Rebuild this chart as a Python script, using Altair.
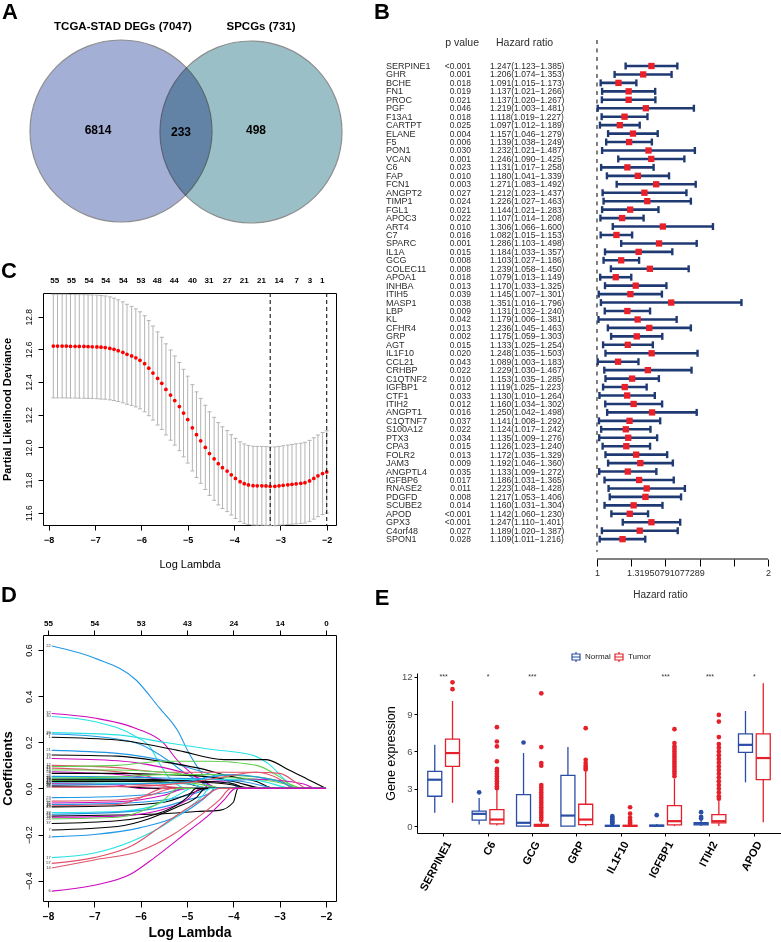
import altair as alt
import pandas as pd

FONT = "Liberation Sans"

# ---------------- A: Venn ----------------
venn_titles = ["TCGA-STAD DEGs (7047)", "SPCGs (731)"]
venn_counts = ["6814", "233", "498"]

# ---------------- B: forest plot ----------------
genes = ["SERPINE1", "GHR", "BCHE", "FN1", "PROC", "PGF", "F13A1", "CARTPT", "ELANE", "F5",
         "PON1", "VCAN", "C6", "FAP", "FCN1", "ANGPT2", "TIMP1", "FGL1", "APOC3", "ART4",
         "C7", "SPARC", "IL1A", "GCG", "COLEC11", "APOA1", "INHBA", "ITIH5", "MASP1", "LBP",
         "KL", "CFHR4", "GRP", "AGT", "IL1F10", "CCL21", "CRHBP", "C1QTNF2", "IGFBP1", "CTF1",
         "ITIH2", "ANGPT1", "C1QTNF7", "S100A12", "PTX3", "CPA3", "FOLR2", "JAM3", "ANGPTL4", "IGFBP6",
         "RNASE2", "PDGFD", "SCUBE2", "APOD", "GPX3", "C4orf48", "SPON1"]
pvals = ["<0.001", "0.001", "0.018", "0.019", "0.021", "0.046", "0.018", "0.025", "0.004", "0.006",
         "0.030", "0.001", "0.023", "0.010", "0.003", "0.027", "0.024", "0.021", "0.022", "0.010",
         "0.016", "0.001", "0.015", "0.008", "0.008", "0.018", "0.013", "0.039", "0.038", "0.009",
         "0.042", "0.013", "0.002", "0.015", "0.020", "0.043", "0.022", "0.010", "0.012", "0.033",
         "0.012", "0.016", "0.037", "0.022", "0.034", "0.015", "0.013", "0.009", "0.035", "0.017",
         "0.011", "0.008", "0.014", "<0.001", "<0.001", "0.027", "0.028"]
hr = [1.247, 1.206, 1.091, 1.137, 1.137, 1.219, 1.118, 1.097, 1.157, 1.139,
      1.232, 1.246, 1.131, 1.180, 1.271, 1.212, 1.226, 1.144, 1.107, 1.306,
      1.082, 1.286, 1.184, 1.103, 1.239, 1.079, 1.170, 1.145, 1.351, 1.131,
      1.179, 1.236, 1.175, 1.133, 1.248, 1.089, 1.229, 1.153, 1.119, 1.130,
      1.160, 1.250, 1.141, 1.124, 1.135, 1.126, 1.172, 1.192, 1.133, 1.186,
      1.223, 1.217, 1.160, 1.142, 1.247, 1.189, 1.109]
hr_lo = [1.123, 1.074, 1.015, 1.021, 1.020, 1.003, 1.019, 1.012, 1.046, 1.038,
         1.021, 1.090, 1.017, 1.041, 1.083, 1.023, 1.027, 1.021, 1.014, 1.066,
         1.015, 1.103, 1.033, 1.027, 1.058, 1.013, 1.033, 1.007, 1.016, 1.032,
         1.006, 1.045, 1.059, 1.025, 1.035, 1.003, 1.030, 1.035, 1.025, 1.010,
         1.034, 1.042, 1.008, 1.017, 1.009, 1.023, 1.035, 1.046, 1.009, 1.031,
         1.048, 1.053, 1.031, 1.060, 1.110, 1.020, 1.011]
hr_hi = [1.385, 1.353, 1.173, 1.266, 1.267, 1.481, 1.227, 1.189, 1.279, 1.249,
         1.487, 1.425, 1.258, 1.339, 1.492, 1.437, 1.463, 1.283, 1.208, 1.600,
         1.153, 1.498, 1.357, 1.186, 1.450, 1.149, 1.325, 1.301, 1.796, 1.240,
         1.381, 1.463, 1.303, 1.254, 1.503, 1.183, 1.467, 1.285, 1.223, 1.264,
         1.302, 1.498, 1.292, 1.242, 1.276, 1.240, 1.329, 1.360, 1.272, 1.365,
         1.428, 1.406, 1.304, 1.230, 1.401, 1.387, 1.216]
hr_ticks = [1, 1.148698, 1.319508, 1.515717, 1.741101, 2]

# ---------------- C: cross-validation curve ----------------
cv_loglam = [-7.90, -7.81, -7.71, -7.62, -7.53, -7.43, -7.34, -7.24, -7.15, -7.06,
             -6.96, -6.87, -6.78, -6.68, -6.59, -6.50, -6.40, -6.31, -6.21, -6.12,
             -6.03, -5.93, -5.84, -5.75, -5.65, -5.56, -5.47, -5.37, -5.28, -5.18,
             -5.09, -5.00, -4.90, -4.81, -4.72, -4.62, -4.53, -4.43, -4.34, -4.25,
             -4.15, -4.06, -3.97, -3.87, -3.78, -3.69, -3.59, -3.50, -3.40, -3.31,
             -3.22, -3.12, -3.03, -2.94, -2.84, -2.75, -2.66, -2.56, -2.47, -2.37,
             -2.28, -2.19, -2.09, -2.00]
cv_mean = [12.620, 12.620, 12.620, 12.620, 12.619, 12.619, 12.618, 12.618, 12.617, 12.616,
           12.615, 12.613, 12.611, 12.606, 12.600, 12.592, 12.582, 12.570, 12.560, 12.548,
           12.533, 12.512, 12.485, 12.455, 12.422, 12.392, 12.355, 12.320, 12.287, 12.250,
           12.210, 12.170, 12.120, 12.078, 12.040, 12.000, 11.962, 11.930, 11.900, 11.876,
           11.855, 11.832, 11.810, 11.790, 11.778, 11.770, 11.766, 11.765, 11.765, 11.764,
           11.762, 11.762, 11.765, 11.768, 11.771, 11.774, 11.777, 11.780, 11.784, 11.795,
           11.810, 11.826, 11.840, 11.850]
cv_se = [0.317, 0.317, 0.317, 0.317, 0.317, 0.317, 0.317, 0.317, 0.317, 0.317,
         0.317, 0.317, 0.316, 0.315, 0.313, 0.311, 0.309, 0.306, 0.303, 0.300,
         0.297, 0.294, 0.291, 0.288, 0.285, 0.282, 0.279, 0.276, 0.273, 0.270,
         0.268, 0.266, 0.264, 0.262, 0.260, 0.258, 0.256, 0.254, 0.252, 0.250,
         0.248, 0.246, 0.245, 0.244, 0.243, 0.242, 0.241, 0.241, 0.241, 0.241,
         0.241, 0.241, 0.241, 0.242, 0.243, 0.244, 0.245, 0.246, 0.247, 0.248,
         0.249, 0.250, 0.251, 0.252]
cv_top_pos = [-7.88, -7.52, -7.14, -6.78, -6.40, -6.02, -5.67, -5.30, -4.91, -4.55,
              -4.16, -3.79, -3.42, -3.04, -2.66, -2.37, -2.11]
cv_top_lab = ["55", "55", "54", "54", "54", "53", "48", "44", "40", "31",
              "27", "21", "21", "14", "7", "3", "1"]
cv_min_lines = [-3.22, -2.00]

# ---------------- D: coefficient paths ----------------
BK, RD, GN, BL, CY, MG = "#000000", "#DF536B", "#61D04F", "#2297E6", "#28E2E5", "#CD0BBC"
coef_paths = [
    ("22", BL, [(-7.92, 0.617), (-7.0, 0.565), (-6.1, 0.47), (-5.6, 0.35), (-5.2, 0.25), (-4.95, 0.15), (-4.7, 0.07), (-4.45, 0.0)]),
    ("32", MG, [(-7.92, 0.325), (-7.0, 0.305), (-6.1, 0.26), (-5.5, 0.195), (-5.2, 0.12), (-4.9, 0.065), (-4.7, 0.03), (-4.5, 0.0)]),
    ("30", CY, [(-7.92, 0.312), (-7.0, 0.29), (-6.1, 0.224), (-5.8, 0.18), (-5.6, 0.11), (-5.4, 0.05), (-5.2, 0.015), (-5.0, 0.0)]),
    ("29", CY, [(-7.92, 0.242), (-6.5, 0.232), (-5.5, 0.2), (-4.5, 0.17), (-3.6, 0.145), (-3.2, 0.1), (-2.9, 0.04), (-2.65, 0.0)]),
    ("49", BL, [(-7.92, 0.236), (-6.8, 0.222), (-6.0, 0.19), (-5.4, 0.12), (-5.0, 0.06), (-4.6, 0.02), (-4.4, 0.0)]),
    ("1", BK, [(-7.92, 0.222), (-6.5, 0.21), (-5.2, 0.165), (-4.2, 0.125), (-3.3, 0.125), (-2.8, 0.08), (-2.4, 0.04), (-2.0, 0.0)]),
    ("21", BL, [(-7.92, 0.165), (-6.5, 0.152), (-5.5, 0.12), (-4.8, 0.08), (-4.2, 0.04), (-3.8, 0.0)]),
    ("39", BK, [(-7.92, 0.145), (-6.5, 0.14), (-5.5, 0.115), (-4.8, 0.09), (-4.0, 0.05), (-3.5, 0.03), (-3.1, 0.0)]),
    ("44", MG, [(-7.92, 0.13), (-6.5, 0.12), (-5.5, 0.09), (-4.8, 0.05), (-4.3, 0.0)]),
    ("12", RD, [(-7.92, 0.1), (-6.5, 0.09), (-5.5, 0.07), (-4.5, 0.07), (-3.5, 0.07), (-3.0, 0.04), (-2.7, 0.0)]),
    ("25", GN, [(-7.92, 0.095), (-6.5, 0.1), (-5.5, 0.118), (-4.5, 0.118), (-3.5, 0.1), (-3.0, 0.05), (-2.6, 0.0)]),
    ("41", RD, [(-7.92, 0.088), (-6.5, 0.072), (-5.8, 0.05), (-5.3, 0.0)]),
    ("19", GN, [(-7.92, 0.08), (-6.5, 0.08), (-5.5, 0.07), (-4.5, 0.05), (-3.5, 0.04), (-2.9, 0.02), (-2.6, 0.0)]),
    ("53", MG, [(-7.92, 0.072), (-6.5, 0.06), (-5.5, 0.04), (-4.5, 0.03), (-3.5, 0.04), (-2.5, 0.02), (-2.2, 0.0)]),
    ("3", BK, [(-7.92, 0.065), (-6.5, 0.065), (-5.5, 0.06), (-4.5, 0.05), (-4.0, 0.03), (-3.3, 0.0)]),
    ("28", BL, [(-7.92, 0.052), (-6.5, 0.05), (-5.5, 0.045), (-4.5, 0.04), (-3.8, 0.03), (-3.0, 0.0)]),
    ("35", CY, [(-7.92, 0.046), (-6.5, 0.042), (-5.5, 0.036), (-4.5, 0.04), (-3.5, 0.035), (-2.7, 0.0)]),
    ("46", GN, [(-7.92, 0.045), (-6.5, 0.05), (-5.5, 0.06), (-4.5, 0.06), (-3.5, 0.05), (-2.8, 0.02), (-2.5, 0.0)]),
    ("9", BK, [(-7.92, 0.04), (-6.0, 0.04), (-5.0, 0.03), (-4.2, 0.02), (-3.5, 0.0)]),
    ("16", BK, [(-7.92, 0.035), (-6.5, 0.036), (-5.5, 0.035), (-4.5, 0.03), (-4.0, 0.02), (-3.7, 0.0)]),
    ("47", GN, [(-7.92, 0.033), (-6.0, 0.03), (-5.0, 0.025), (-4.5, 0.01), (-4.2, 0.0)]),
    ("15", BK, [(-7.92, 0.03), (-6.0, 0.03), (-5.0, 0.02), (-4.5, 0.0)]),
    ("33", RD, [(-7.92, 0.025), (-6.5, 0.02), (-5.5, 0.01), (-5.0, 0.0)]),
    ("40", CY, [(-7.92, 0.024), (-6.0, 0.022), (-5.0, 0.02), (-4.5, 0.0)]),
    ("50", MG, [(-7.92, 0.02), (-6.5, 0.015), (-6.0, 0.0)]),
    ("26", BL, [(-7.92, 0.015), (-6.0, 0.02), (-5.0, 0.03), (-4.5, 0.05), (-4.0, 0.06), (-3.5, 0.05), (-3.0, 0.03), (-2.6, 0.0)]),
    ("11", BK, [(-7.92, 0.01), (-6.5, 0.008), (-5.5, 0.0)]),
    ("55", RD, [(-7.92, 0.005), (-6.0, 0.01), (-5.0, 0.025), (-4.2, 0.05), (-3.5, 0.07), (-3.0, 0.065), (-2.6, 0.02), (-2.4, 0.0)]),
    ("23", BL, [(-7.92, -0.04), (-6.5, -0.035), (-5.5, -0.02), (-5.0, 0.0)]),
    ("52", RD, [(-7.92, -0.055), (-6.5, -0.05), (-5.8, -0.03), (-5.3, 0.0)]),
    ("36", MG, [(-7.92, -0.063), (-6.5, -0.058), (-5.5, -0.03), (-5.0, 0.0)]),
    ("38", BL, [(-7.92, -0.07), (-6.5, -0.065), (-5.5, -0.05), (-4.8, -0.02), (-4.5, 0.0)]),
    ("45", RD, [(-7.92, -0.075), (-6.5, -0.07), (-6.0, -0.04), (-5.5, 0.0)]),
    ("43", BK, [(-7.92, -0.08), (-6.5, -0.075), (-5.5, -0.06), (-4.9, -0.02), (-4.6, 0.0)]),
    ("27", CY, [(-7.92, -0.105), (-6.5, -0.1), (-5.8, -0.08), (-5.2, -0.03), (-4.9, 0.0)]),
    ("48", BL, [(-7.92, -0.112), (-6.5, -0.104), (-5.5, -0.08), (-5.0, -0.05), (-4.5, -0.02), (-4.4, 0.0)]),
    ("2", BK, [(-7.92, -0.12), (-6.5, -0.115), (-5.5, -0.11), (-4.8, -0.1), (-4.3, -0.095), (-4.0, -0.06), (-3.9, 0.0)]),
    ("34", MG, [(-7.92, -0.125), (-6.5, -0.12), (-5.5, -0.09), (-5.0, -0.05), (-4.7, 0.0)]),
    ("24", GN, [(-7.92, -0.132), (-6.5, -0.125), (-6.0, -0.1), (-5.5, -0.05), (-5.2, 0.0)]),
    ("37", BK, [(-7.92, -0.152), (-6.5, -0.14), (-5.5, -0.1), (-5.0, -0.04), (-4.8, 0.0)]),
    ("7", BK, [(-7.92, -0.18), (-6.5, -0.165), (-5.8, -0.13), (-5.2, -0.08), (-4.8, -0.04), (-4.6, 0.0)]),
    ("4", BL, [(-7.92, -0.21), (-7.0, -0.2), (-6.0, -0.17), (-5.2, -0.12), (-4.8, -0.07), (-4.5, -0.02), (-4.4, 0.0)]),
    ("17", CY, [(-7.92, -0.3), (-7.0, -0.28), (-6.2, -0.23), (-5.5, -0.16), (-5.0, -0.09), (-4.7, -0.04), (-4.5, 0.0)]),
    ("57", RD, [(-7.92, -0.325), (-7.0, -0.3), (-6.2, -0.25), (-5.6, -0.17), (-5.1, -0.1), (-4.7, -0.05), (-4.3, 0.0)]),
    ("14", RD, [(-7.92, -0.345), (-7.0, -0.31), (-6.0, -0.27), (-5.3, -0.2), (-4.8, -0.13), (-4.3, -0.05), (-4.05, 0.0)]),
    ("6", MG, [(-7.92, -0.445), (-7.0, -0.42), (-6.2, -0.37), (-5.7, -0.3), (-5.0, -0.19), (-4.5, -0.11), (-4.2, -0.05), (-3.95, 0.0)]),
]
d_ticks = [-8, -7, -6, -5, -4, -3, -2]
d_top_lab = ["55", "54", "53", "43", "24", "14", "0"]

# ---------------- E: boxplots ----------------
e_genes = ["SERPINE1", "C6", "GCG", "GRP", "IL1F10", "IGFBP1", "ITIH2", "APOD"]
e_groups = ["Normal", "Tumor"]
e_sig = ["***", "*", "***", "", "", "***", "***", "*"]
normal_lw = [1.07, 0.13, 0.0, 0.0, 0.0, 0.0, 0.02, 3.52]
normal_q1 = [2.40, 0.48, 0.0, 0.0, 0.0, 0.0, 0.10, 5.92]
normal_med = [3.73, 0.99, 0.27, 0.85, 0.02, 0.03, 0.20, 6.53]
normal_q3 = [4.40, 1.20, 2.53, 4.08, 0.06, 0.08, 0.28, 7.41]
normal_uw = [6.53, 2.27, 5.87, 6.35, 0.12, 0.17, 0.50, 9.25]
tumor_lw = [1.87, 0.05, 0.0, 0.0, 0.0, 0.0, 0.02, 0.32]
tumor_q1 = [4.80, 0.19, 0.0, 0.13, 0.0, 0.10, 0.27, 3.73]
tumor_med = [5.87, 0.53, 0.05, 0.53, 0.02, 0.40, 0.40, 5.47]
tumor_q3 = [6.99, 1.33, 0.15, 1.76, 0.06, 1.65, 0.93, 7.41]
tumor_uw = [10.05, 2.93, 0.35, 4.40, 0.14, 3.79, 2.05, 11.47]
normal_out = {"C6": [2.72], "GCG": [6.72], "IL1F10": [0.80, 0.67, 0.55, 0.40, 0.30, 0.22],
              "IGFBP1": [0.88], "ITIH2": [1.12, 0.75, 0.62]}
tumor_out = {
    "SERPINE1": [11.55, 11.0],
    "C6": [7.95, 6.8, 6.4, 5.2, 4.6, 4.4, 4.2, 4.0, 3.8, 3.6, 3.4, 3.2, 3.05],
    "GCG": [10.67, 6.35, 5.07, 4.85, 3.3, 3.1, 2.9, 2.7, 2.5, 2.3, 2.1, 1.9, 1.7, 1.5, 1.3, 1.1, 0.9, 0.7, 0.5],
    "GRP": [7.87, 5.33, 5.07, 4.85, 4.7, 4.55],
    "IL1F10": [1.52, 1.0, 0.67, 0.45, 0.3, 0.2],
    "IGFBP1": [7.79, 6.67, 6.4, 6.2, 6.0, 5.8, 5.6, 5.4, 5.2, 5.0, 4.8, 4.6, 4.4, 4.2, 4.0],
    "ITIH2": [8.93, 8.4, 7.15, 6.6, 6.3, 6.0, 5.7, 5.4, 5.1, 4.8, 4.5, 4.2, 3.9, 3.6, 3.3, 3.0, 2.7, 2.4, 2.2],
}

# ---------------- layout / style ----------------
LEFT_W = 293
A_H, C_H, D_H = 147, 232, 266
B_W, B_H = 351, 523
E_W, E_H = 364, 160
NAVY, HRRED = "#1F3A73", "#E8202A"
EBLUE, ERED = "#2A4EA6", "#E5202A"
LET_DY = -24
LET_FS = 22
BOX_GLYPH = "M-0.8,-0.6H0.8V0.6H-0.8Z M-0.8,0H0.8 M0,-0.6V-1 M0,0.6V1"


def letter(ch, dx, dy):
    return alt.Chart(pd.DataFrame({"t": [ch]})).mark_text(
        fontSize=LET_FS, fontWeight="bold", align="center", baseline="middle", color="black"
    ).encode(x=alt.value(dx), y=alt.value(dy), text="t:N")


# ======== Panel A ========
va_x = alt.Scale(domain=[42, 42 + LEFT_W], nice=False, zero=False)
va_y = alt.Scale(domain=[36, 36 + A_H], reverse=True, nice=False, zero=False)
circ_df = pd.DataFrame({"set": venn_titles, "cx": [120, 250], "cy": [131, 132],
                        "col": ["#A4AFD6", "#9ABFC6"]})
circles = alt.Chart(circ_df).mark_circle(
    size=182 ** 2, opacity=1, blend="multiply", stroke="#8E8E8E", strokeWidth=1.2
).encode(x=alt.X("cx:Q", scale=va_x, axis=None), y=alt.Y("cy:Q", scale=va_y, axis=None),
         color=alt.Color("col:N", scale=None))
ttl_df = pd.DataFrame({"t": venn_titles, "tx": [122, 260], "ty": [27, 27]})
ttl = alt.Chart(ttl_df).mark_text(fontSize=11.5, fontWeight="bold", color="black").encode(
    x=alt.X("tx:Q", scale=va_x, axis=None), y=alt.Y("ty:Q", scale=va_y, axis=None), text="t:N")
cnt_df = pd.DataFrame({"t": venn_counts, "tx": [97, 180, 255], "ty": [130, 132, 130]})
cnt = alt.Chart(cnt_df).mark_text(fontSize=12, fontWeight="bold", color="black").encode(
    x=alt.X("tx:Q", scale=va_x, axis=None), y=alt.Y("ty:Q", scale=va_y, axis=None), text="t:N")
panelA = alt.layer(circles, ttl, cnt, letter("A", -33, LET_DY)).properties(width=LEFT_W, height=A_H)

# ======== Panel B (table + forest in one view) ========
fy = alt.Scale(domain=[-3.55, 58.35], reverse=True, nice=False, zero=False)
bdf = pd.DataFrame({"gene": genes, "p": pvals, "hr": hr, "lo": hr_lo, "hi": hr_hi,
                    "row": list(range(len(genes)))})
bdf["txt"] = [f"{h:.3f}({l:.3f}\u2212{u:.3f})" for h, l, u in zip(hr, hr_lo, hr_hi)]
by = alt.Y("row:Q", scale=fy, axis=None)
tcol = "#2B2B2B"
t_gene = alt.Chart(bdf).mark_text(align="left", baseline="middle", fontSize=9, color=tcol).encode(
    x=alt.value(-31), y=by, text="gene:N")
t_p = alt.Chart(bdf).mark_text(align="right", baseline="middle", fontSize=8.5, color=tcol).encode(
    x=alt.value(54), y=by, text="p:N")
t_hr = alt.Chart(bdf).mark_text(align="left", baseline="middle", fontSize=8.5, color=tcol).encode(
    x=alt.value(73), y=by, text="txt:N")
hdr_df = pd.DataFrame({"row": [-2.72]})
h1 = alt.Chart(hdr_df).mark_text(align="right", baseline="middle", fontSize=10.5, color=tcol, text="p value").encode(
    x=alt.value(62), y=by)
h2 = alt.Chart(hdr_df).mark_text(align="left", baseline="middle", fontSize=10.5, color=tcol, text="Hazard ratio").encode(
    x=alt.value(79), y=by)

# log scale: HR 1 sits 180 px right of the panel edge, HR 2 at the right edge
fx = alt.Scale(type="log", domain=[0.4821, 2], nice=False)
f_axis = alt.Axis(values=hr_ticks,
                  labelExpr="datum.value == 1 ? '1' : (datum.value == 2 ? '2' : (abs(datum.value - 1.319508) < 0.001 ? '1.31950791077289' : ''))",
                  tickSize=7, tickColor="black", domain=False, labelFontSize=9, labelColor=tcol,
                  labelPadding=2, labelOverlap=False, labelFlush=False, labelBound=False, grid=False,
                  title="Hazard ratio", titleFontSize=10, titleFontWeight="normal", titleColor=tcol,
                  titleX=243, titleY=35, titleBaseline="middle", titleAlign="center")
ref_df = pd.DataFrame({"v": [1.0], "r1": [-3.08], "r2": [57.5]})
f_ref = alt.Chart(ref_df).mark_rule(color="black", strokeWidth=1, strokeDash=[4, 4.5]).encode(
    x=alt.X("v:Q", scale=fx, axis=None), y=alt.Y("r1:Q", scale=fy, axis=None), y2="r2:Q")
axl_df = pd.DataFrame({"a": [1.0], "b": [2.0], "r": [58.35]})
f_axl = alt.Chart(axl_df).mark_rule(color="black", strokeWidth=1).encode(
    x=alt.X("a:Q", scale=fx, axis=None), x2="b:Q", y=alt.Y("r:Q", scale=fy, axis=None))
f_ci = alt.Chart(bdf).mark_rule(color=NAVY, strokeWidth=2.6).encode(
    x=alt.X("lo:Q", scale=fx, axis=None), x2="hi:Q", y=by)
f_cap1 = alt.Chart(bdf).mark_tick(orient="vertical", size=7, thickness=2.4, color=NAVY, opacity=1).encode(
    x=alt.X("lo:Q", scale=fx, axis=None), y=by)
f_cap2 = alt.Chart(bdf).mark_tick(orient="vertical", size=7, thickness=2.4, color=NAVY, opacity=1).encode(
    x=alt.X("hi:Q", scale=fx, axis=None), y=by)
f_pt = alt.Chart(bdf).mark_square(size=40, color=HRRED, opacity=1).encode(
    x=alt.X("hr:Q", scale=fx, axis=f_axis), y=by)
panelB = alt.layer(t_gene, t_p, t_hr, h1, h2, f_ref, f_axl, f_ci, f_cap1, f_cap2, f_pt,
                   letter("B", -35, LET_DY)).resolve_axis(x="independent").properties(width=B_W, height=B_H)

# ======== Panel C ========
cx_scale = alt.Scale(domain=[-8.123, -1.80], nice=False, zero=False)
cy_scale = alt.Scale(domain=[11.525, 12.945], nice=False, zero=False)
cdf = pd.DataFrame({"x": cv_loglam, "m": cv_mean, "se": cv_se})
cdf["up"] = cdf["m"] + cdf["se"]
cdf["lo"] = cdf["m"] - cdf["se"]
c_xaxis = alt.Axis(values=d_ticks, format="d", labelFontSize=9, labelFontWeight="bold", labelColor="black",
                   tickColor="black", tickSize=5, domain=False, grid=False, labelPadding=5, labelFlush=False,
                   title="Log Lambda", titleFontSize=11, titleFontWeight="normal", titlePadding=14)
c_yaxis = alt.Axis(values=[11.6, 11.8, 12.0, 12.2, 12.4, 12.6, 12.8], format=".1f", labelAngle=-90,
                   labelAlign="center", labelBaseline="bottom", labelFontSize=8.5, labelColor="black",
                   tickColor="black", tickSize=5, domain=False, grid=False, labelPadding=5,
                   title="Partial Likelihood Deviance", titleFontSize=11, titleFontWeight="bold", titlePadding=12)
GREY = "#B4B4B4"
c_err = alt.Chart(cdf).mark_rule(color=GREY, strokeWidth=1).encode(
    x=alt.X("x:Q", scale=cx_scale, axis=None), y=alt.Y("lo:Q", scale=cy_scale, axis=c_yaxis), y2="up:Q")
c_cap1 = alt.Chart(cdf).mark_tick(orient="horizontal", size=4, thickness=1, color=GREY, opacity=1).encode(
    x=alt.X("x:Q", scale=cx_scale, axis=None), y=alt.Y("up:Q", scale=cy_scale, axis=c_yaxis))
c_cap2 = alt.Chart(cdf).mark_tick(orient="horizontal", size=4, thickness=1, color=GREY, opacity=1).encode(
    x=alt.X("x:Q", scale=cx_scale, axis=None), y=alt.Y("lo:Q", scale=cy_scale, axis=c_yaxis))
c_pts = alt.Chart(cdf).mark_circle(color="#FF0000", size=14, opacity=1).encode(
    x=alt.X("x:Q", scale=cx_scale, axis=c_xaxis), y=alt.Y("m:Q", scale=cy_scale, axis=c_yaxis))
c_vl = alt.Chart(pd.DataFrame({"x": cv_min_lines})).mark_rule(color="black", strokeWidth=1, strokeDash=[4, 3]).encode(
    x=alt.X("x:Q", scale=cx_scale, axis=None))
c_top_expr = "[" + ",".join(f"'{s}'" for s in cv_top_lab) + "][indexof([" + ",".join(str(v) for v in cv_top_pos) + "], datum.value)]"
c_top = alt.Chart(pd.DataFrame({"x": cv_top_pos})).mark_point(opacity=0).encode(
    x=alt.X("x:Q", scale=cx_scale, axis=alt.Axis(orient="top", values=cv_top_pos, labelExpr=c_top_expr,
                                                 ticks=False, tickSize=0, domain=False, grid=False,
                                                 labelFontSize=8, labelFontWeight="bold", labelColor="black",
                                                 labelPadding=9, labelOverlap=False, labelFlush=False,
                                                 labelBound=False, title=None)),
    y=alt.value(0))
panelC = alt.layer(c_err, c_cap1, c_cap2, c_pts, c_vl, c_top, letter("C", -34, -22)).resolve_axis(
    x="independent").properties(width=LEFT_W, height=C_H, view=alt.ViewBackground(stroke="black", strokeWidth=1))

# ======== Panel D ========
dx_scale = alt.Scale(domain=[-8.108, -1.784], nice=False, zero=False)
dy_scale = alt.Scale(domain=[-0.488, 0.665], nice=False, zero=False)
rows, labs = [], []
for k, (lab, col, pts) in enumerate(coef_paths):
    seq = list(pts)
    if seq[-1][0] < -2.0:
        seq.append((-2.0, 0.0))
    for j, (xv, yv) in enumerate(seq):
        rows.append({"path": k, "x": xv, "c": yv, "col": col, "o": j})
    labs.append({"x": pts[0][0] - 0.02, "c": pts[0][1], "lab": lab})
ddf = pd.DataFrame(rows)
dlab = pd.DataFrame(labs)
d_xaxis = alt.Axis(values=d_ticks, format="d", labelFontSize=10, labelFontWeight="bold", labelColor="black",
                   tickColor="black", tickSize=6, domain=False, grid=False, labelPadding=4, labelFlush=False,
                   title="Log Lambda", titleFontSize=14, titleFontWeight="bold", titlePadding=4)
d_yaxis = alt.Axis(values=[-0.4, -0.2, 0.0, 0.2, 0.4, 0.6], format=".1f", labelAngle=-90,
                   labelAlign="center", labelBaseline="bottom", labelFontSize=9, labelColor="black",
                   tickColor="black", tickSize=5, domain=False, grid=False, labelPadding=5,
                   title="Coefficients", titleFontSize=13, titleFontWeight="bold", titlePadding=10)
d_lines = alt.Chart(ddf).mark_line(strokeWidth=1.1, interpolate="monotone").encode(
    x=alt.X("x:Q", scale=dx_scale, axis=d_xaxis), y=alt.Y("c:Q", scale=dy_scale, axis=d_yaxis),
    detail="path:N", order="o:Q", color=alt.Color("col:N", scale=None))
d_labs = alt.Chart(dlab).mark_text(fontSize=4, align="right", baseline="middle", color="#333333").encode(
    x=alt.X("x:Q", scale=dx_scale, axis=None), y=alt.Y("c:Q", scale=dy_scale, axis=d_yaxis), text="lab:N")
d_top_expr = "[" + ",".join(f"'{s}'" for s in d_top_lab) + "][indexof([" + ",".join(str(v) for v in d_ticks) + "], datum.value)]"
d_top = alt.Chart(pd.DataFrame({"x": d_ticks})).mark_point(opacity=0).encode(
    x=alt.X("x:Q", scale=dx_scale, axis=alt.Axis(orient="top", values=d_ticks, labelExpr=d_top_expr,
                                                 tickSize=5, tickColor="black", domain=False, grid=False,
                                                 labelFontSize=8, labelFontWeight="bold", labelColor="black",
                                                 labelPadding=3, labelOverlap=False, labelFlush=False,
                                                 labelBound=False, title=None)),
    y=alt.value(0))
panelD = alt.layer(d_lines, d_labs, d_top, letter("D", -34, -40)).resolve_axis(x="independent").properties(
    width=LEFT_W, height=D_H, view=alt.ViewBackground(stroke="black", strokeWidth=1))

# ======== Panel E ========
brow = []
for i, g in enumerate(e_genes):
    brow.append(dict(gene=g, grp="Normal", lw=normal_lw[i], q1=normal_q1[i], med=normal_med[i],
                     q3=normal_q3[i], uw=normal_uw[i]))
    brow.append(dict(gene=g, grp="Tumor", lw=tumor_lw[i], q1=tumor_q1[i], med=tumor_med[i],
                     q3=tumor_q3[i], uw=tumor_uw[i]))
edf = pd.DataFrame(brow)
orow = []
for g, vs in normal_out.items():
    for v in vs:
        orow.append(dict(gene=g, grp="Normal", v=v))
for g, vs in tumor_out.items():
    for v in vs:
        orow.append(dict(gene=g, grp="Tumor", v=v))
odf = pd.DataFrame(orow)
sdf = pd.DataFrame({"gene": e_genes, "s": e_sig, "y": [12.0] * len(e_genes)})

e_xaxis = alt.Axis(labelAngle=-62, labelAlign="right", labelBaseline="top", labelFontSize=11,
                   labelFontWeight="bold", labelColor="black", domainColor="black", tickColor="black",
                   tickSize=3, labelPadding=3, title=None, grid=False)
e_yaxis = alt.Axis(values=[0, 3, 6, 9, 12], labelFontSize=9.5, labelColor="#4D4D4D", tickColor="black",
                   tickSize=3, domainColor="black", grid=False, labelPadding=2,
                   title="Gene expression", titleFontSize=12.5, titleFontWeight="normal", titlePadding=4)
ex = alt.X("gene:N", sort=e_genes, scale=alt.Scale(domain=e_genes, paddingInner=0, paddingOuter=0.1), axis=e_xaxis)
exo = alt.XOffset("grp:N", scale=alt.Scale(domain=e_groups, paddingInner=0, paddingOuter=0.25))
ey_scale = alt.Scale(domain=[-0.55, 12.3], nice=False, zero=False)
e_stroke = alt.Stroke("grp:N", scale=alt.Scale(domain=e_groups, range=[EBLUE, ERED]), legend=None)
e_color = alt.Color("grp:N", scale=alt.Scale(domain=e_groups, range=[EBLUE, ERED]), legend=None)

e_w1 = alt.Chart(edf).mark_rule(strokeWidth=1.3).encode(
    x=ex, xOffset=exo, y=alt.Y("lw:Q", scale=ey_scale, axis=e_yaxis), y2="q1:Q", stroke=e_stroke)
e_w2 = alt.Chart(edf).mark_rule(strokeWidth=1.3).encode(
    x=ex, xOffset=exo, y=alt.Y("q3:Q", scale=ey_scale, axis=e_yaxis), y2="uw:Q", stroke=e_stroke)
e_box = alt.Chart(edf).mark_bar(width=14, fill="white", strokeWidth=1.3).encode(
    x=ex, xOffset=exo, y=alt.Y("q1:Q", scale=ey_scale, axis=e_yaxis), y2="q3:Q", stroke=e_stroke)
e_med = alt.Chart(edf).mark_tick(orient="horizontal", size=14, thickness=2.2, opacity=1).encode(
    x=ex, xOffset=exo, y=alt.Y("med:Q", scale=ey_scale, axis=e_yaxis), color=e_color)
e_out = alt.Chart(odf).mark_circle(size=22, opacity=1).encode(
    x=ex, xOffset=exo, y=alt.Y("v:Q", scale=ey_scale, axis=e_yaxis), color=e_color)
e_star = alt.Chart(sdf).mark_text(fontSize=7, color="#333333", baseline="middle").encode(
    x=ex, y=alt.Y("y:Q", scale=ey_scale, axis=e_yaxis), text="s:N")

# legend (drawn as guide marks above the plot area)
leg_layers = []
for name, colr, gx in [("Normal", EBLUE, 159), ("Tumor", ERED, 202)]:
    one = pd.DataFrame({"t": [name]})
    leg_layers.append(alt.Chart(one).mark_point(shape=BOX_GLYPH, size=100, filled=False, strokeWidth=1.2,
                                                color=colr, opacity=1).encode(
        x=alt.value(gx), y=alt.value(-16)))
    leg_layers.append(alt.Chart(one).mark_text(fontSize=8, align="left", baseline="middle", color="#222222").encode(
        x=alt.value(gx + 9), y=alt.value(-16), text="t:N"))

panelE = alt.layer(e_w1, e_w2, e_box, e_med, e_out, e_star, *leg_layers, letter("E", -35, -75)).properties(
    width=E_W, height=E_H)

# ======== assemble ========
left_col = alt.vconcat(panelA, panelC, panelD, spacing=110, bounds="flush")
right_col = alt.vconcat(panelB, panelE, spacing=114, bounds="flush")
chart = alt.hconcat(left_col, right_col, spacing=29).properties(
    padding={"left": 0, "top": 1, "right": 0, "bottom": 0}
).configure(font=FONT).configure_view(stroke=None)

chart.save("out.html", embed_options={"renderer": "svg", "actions": False})
